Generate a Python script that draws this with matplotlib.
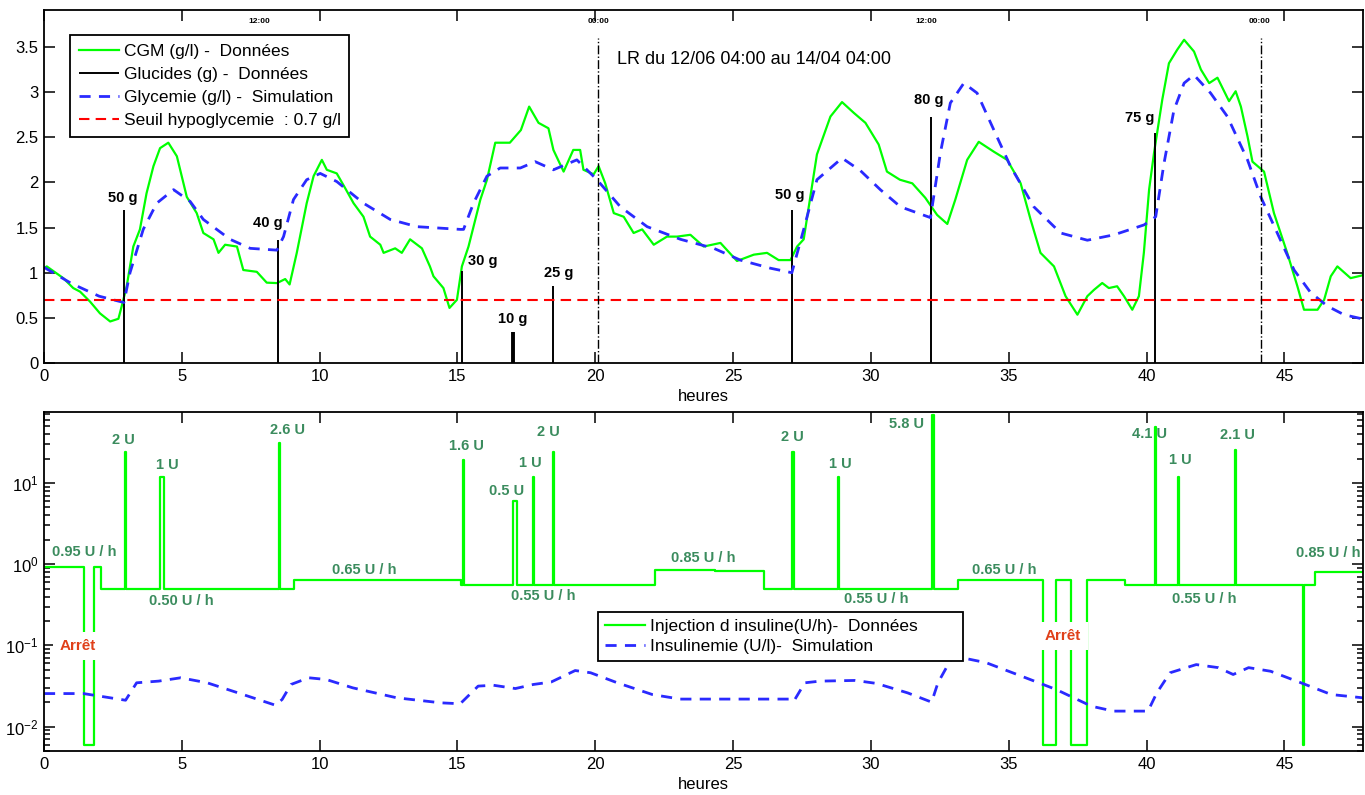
"""
Glycemie / insuline sur 48 h : donnees CGM, glucides, simulation
"""

import numpy as np
import matplotlib
matplotlib.use('Agg')
import matplotlib.pyplot as plt

plt.rcParams['font.family'] = ['Liberation Sans', 'DejaVu Sans']

# ---- CGM (g/l) - donnees
cgm_t = [0.0, 0.1, 0.7, 1.06, 1.31, 1.67, 2.03, 2.4, 2.7, 2.82, 3.0, 3.24, 3.48, 3.72,
         3.97, 4.21, 4.51, 4.82, 5.18, 5.54, 5.78, 6.15, 6.33, 6.57, 7.0, 7.23, 7.72,
         8.08, 8.45, 8.75, 8.91, 9.17, 9.53, 9.78, 10.08, 10.26, 10.62, 10.92, 11.23,
         11.59, 11.83, 12.2, 12.32, 12.74, 12.98, 13.28, 13.71, 14.0, 14.13, 14.49,
         14.71, 14.98, 15.16, 15.4, 15.83, 16.07, 16.37, 16.9, 17.3, 17.6, 17.94, 18.3,
         18.48, 18.85, 19.2, 19.45, 19.57, 19.94, 20.12, 20.36, 20.67, 21.03, 21.39,
         21.7, 22.12, 22.6, 22.97, 23.45, 23.93, 24.54, 25.14, 25.75, 26.23, 26.65,
         27.08, 27.32, 27.56, 27.8, 28.04, 28.53, 28.95, 29.38, 29.8, 30.28, 30.58,
         31.05, 31.5, 31.97, 32.4, 32.77, 33.06, 33.49, 33.91, 34.46, 34.94, 35.43,
         35.79, 36.15, 36.64, 37.06, 37.49, 37.85, 38.09, 38.39, 38.63, 38.93, 39.18,
         39.48, 39.72, 39.9, 40.09, 40.27, 40.57, 40.81, 41.11, 41.36, 41.72, 41.97,
         42.27, 42.57, 42.99, 43.23, 43.42, 43.66, 43.84, 44.26, 44.62, 45.1, 45.47,
         45.71, 46.2, 46.44, 46.68, 46.92, 47.4, 47.95]
cgm_v = [1.05, 1.07, 0.94, 0.83, 0.79, 0.68, 0.55, 0.46, 0.49, 0.63, 0.85, 1.29, 1.48, 1.88,
         2.18, 2.38, 2.44, 2.29, 1.84, 1.66, 1.44, 1.37, 1.22, 1.31, 1.29, 1.03, 1.01,
         0.89, 0.885, 0.93, 0.87, 1.22, 1.77, 2.07, 2.25, 2.14, 2.10, 1.94, 1.77,
         1.62, 1.40, 1.31, 1.22, 1.27, 1.22, 1.37, 1.27, 1.07, 0.96, 0.83,
         0.61, 0.70, 1.07, 1.29, 1.81, 2.03, 2.44, 2.44, 2.58, 2.84, 2.66, 2.60,
         2.36, 2.12, 2.36, 2.36, 2.14, 2.09, 2.18, 1.99, 1.66, 1.62, 1.44,
         1.48, 1.31, 1.40, 1.40, 1.42, 1.29, 1.33, 1.13, 1.20, 1.22, 1.14,
         1.14, 1.29, 1.37, 1.84, 2.31, 2.73, 2.89, 2.77, 2.66, 2.42, 2.12,
         2.03, 1.99, 1.83, 1.64, 1.54, 1.81, 2.25, 2.45, 2.34, 2.25, 1.99,
         1.59, 1.22, 1.07, 0.74, 0.535, 0.74, 0.81, 0.886, 0.83, 0.85, 0.74,
         0.59, 0.74, 1.22, 1.92, 2.33, 2.92, 3.32, 3.47, 3.58, 3.45, 3.25,
         3.10, 3.16, 2.90, 3.01, 2.84, 2.51, 2.23, 2.12, 1.66, 1.22, 0.85,
         0.59, 0.59, 0.70, 0.96, 1.07, 0.94, 0.98]

# ---- Glycemie (g/l) - simulation
gly_t = [0.0, 1.0, 2.0, 2.9, 3.12, 3.6, 4.09, 4.7, 5.3, 5.78, 6.75, 7.48, 8.45, 8.69,
         9.05, 9.53, 10.02, 10.62, 11.59, 12.56, 13.53, 15.1, 15.22, 15.58, 16.07,
         16.55, 17.28, 17.82, 18.48, 19.33, 20.06, 20.91, 21.88, 23.09, 24.3, 25.26,
         26.35, 27.13, 27.56, 28.04, 28.95, 29.62, 30.34, 31.07, 32.16, 32.52, 32.88,
         33.37, 33.85, 34.46, 35.06, 35.91, 36.88, 37.85, 38.82, 39.91, 40.33, 40.63,
         40.99, 41.36, 41.72, 42.32, 42.93, 43.66, 44.14, 44.74, 45.35, 45.95, 46.56,
         47.16, 47.95]
gly_v = [1.06, 0.88, 0.74, 0.67, 1.0, 1.48, 1.77, 1.92, 1.79, 1.59, 1.37, 1.27, 1.25, 1.40,
         1.81, 2.03, 2.10, 2.01, 1.77, 1.59, 1.51, 1.48, 1.48, 1.77, 2.07,
         2.16, 2.16, 2.23, 2.14, 2.25, 2.03, 1.73, 1.51, 1.37, 1.27, 1.14,
         1.05, 1.00, 1.48, 2.03, 2.27, 2.13, 1.92, 1.73, 1.61, 2.33, 2.88,
         3.10, 2.99, 2.58, 2.18, 1.73, 1.44, 1.36, 1.42, 1.53, 1.62, 2.21,
         2.80, 3.10, 3.19, 2.99, 2.73, 2.25, 1.84, 1.44, 1.03, 0.78, 0.63,
         0.535, 0.48]

SEUIL = 0.7

# ---- Glucides (g)
carb_t = [2.9, 8.48, 15.16, 17.01, 18.45, 27.14, 32.16, 40.29]
carb_g = [50, 40, 30, 10, 25, 50, 80, 75]
G_SCALE = 0.034  # hauteur du trait en g/l par gramme

# ---- Insuline : basal (U/h), arrets, bolus (U)
basal_t = [0, 2.05, 9.07, 15.11, 22.18, 24.35, 26.13, 33.15, 39.2, 46.1]
basal_rate = [0.93, 0.49, 0.64, 0.55, 0.86, 0.82, 0.49, 0.64, 0.55, 0.81]
arret_start = [1.44, 36.25, 37.27, 45.66]
arret_end = [1.81, 36.72, 37.82, 45.72]
ARRET_LEVEL = 0.006
bolus_t = [2.94, 4.2, 8.51, 15.2, 17.0, 17.73, 18.45, 27.15, 28.8, 32.23, 40.3, 41.14, 43.2]
bolus_u = [2, 1, 2.6, 1.6, 0.5, 1, 2, 2, 1, 5.8, 4.1, 1, 2.1]
bolus_dur = [0.05, 0.15, 0.05, 0.05, 0.15, 0.05, 0.05, 0.05, 0.05, 0.05, 0.05, 0.05, 0.05]
BOLUS_RATE = 12  # bolus delivre en 5 min -> U/h

basal_labels = ['0.95 U / h', '0.50 U / h', '0.65 U / h', '0.55 U / h', '0.85 U / h',
                '0.55 U / h', '0.65 U / h', '0.55 U / h', '0.85 U / h']
basal_label_t = [1.45, 4.97, 11.6, 18.1, 23.9, 30.2, 34.85, 42.1, 46.6]
basal_label_v = [1.42, 0.352, 0.85, 0.406, 1.18, 0.37, 0.85, 0.377, 1.37]

# ---- Insulinemie (U/l) - simulation
ins_t = [0, 1.43, 2.96, 3.36, 4.16, 4.96, 5.92, 7.04, 8.4, 8.64, 8.96, 9.6, 10.24, 11.2,
         12.8, 14.4, 15.1, 15.75, 16.3, 17.1, 17.75, 18.4, 19.27, 19.83, 20.8, 22.07,
         23.08, 27.05, 27.2, 27.6, 28.16, 29.43, 30.2, 31.33, 32.2, 32.43, 32.9, 33.3,
         34.18, 35.45, 36.72, 38.0, 38.8, 40.05, 40.37, 40.85, 41.8, 42.6, 43.14, 43.7,
         44.5, 45.6, 46.7, 47.9]
ins_v = [0.0255, 0.0255, 0.0211, 0.0346, 0.0363, 0.0399, 0.0346, 0.026, 0.0183, 0.0216,
         0.033, 0.0399, 0.038, 0.030, 0.0226, 0.0196, 0.0191, 0.0315, 0.0323, 0.0294,
         0.033, 0.0354, 0.049, 0.046, 0.0346, 0.0248, 0.0218, 0.0218, 0.0205, 0.0346,
         0.0363, 0.037, 0.034, 0.026, 0.020, 0.0346, 0.067, 0.0705, 0.0612, 0.0419,
         0.0286, 0.0178, 0.0155, 0.0155, 0.026, 0.046, 0.058, 0.0532, 0.0438, 0.0532,
         0.048, 0.0346, 0.0248, 0.0225]

X_MAX = 47.85
LABEL_GREEN = '#3b8c5e'
ARRET_RED = '#e0401a'


def insulin_trace():
    """Courbe en escalier du debit d'insuline a partir des evenements"""
    edges = set(basal_t) | set(arret_start) | set(arret_end) | {X_MAX}
    for t, d in zip(bolus_t, bolus_dur):
        edges |= {t, t + d}
    edges = sorted(edges)
    values = []
    for a, b in zip(edges[:-1], edges[1:]):
        mid = 0.5 * (a + b)
        val = None
        for s, e in zip(arret_start, arret_end):
            if s <= mid < e:
                val = ARRET_LEVEL
        if val is None:
            for t, u, d in zip(bolus_t, bolus_u, bolus_dur):
                if t <= mid < t + d:
                    val = u * BOLUS_RATE
        if val is None:
            idx = np.searchsorted(basal_t, mid, side='right') - 1
            val = basal_rate[idx]
        values.append(val)
    values.append(values[-1])
    return edges, values


def style_axis(ax):
    ax.tick_params(which='both', direction='in', top=True, right=True,
                   labelsize=12, pad=4, width=1.1)
    ax.tick_params(which='major', length=8)
    ax.tick_params(which='minor', length=4)
    for sp in ax.spines.values():
        sp.set_linewidth(1.3)
    ax.set_xlim(0, X_MAX)
    ax.set_xticks(range(0, 50, 5))
    ax.set_xlabel('heures', fontsize=12, labelpad=4)


fig = plt.figure(figsize=(13.65, 7.95), dpi=100)
ax1 = fig.add_axes([44 / 1365, 1 - 363 / 795, 1319 / 1365, 353 / 795])
ax2 = fig.add_axes([44 / 1365, 1 - 751 / 795, 1319 / 1365, 339 / 795])

# ---------------- haut : glycemie
h_cgm, = ax1.plot(cgm_t, cgm_v, color='#00ff00', lw=1.6)
carb_lw = [1.4 if g != 10 else 2.8 for g in carb_g]
h_carb = ax1.vlines(carb_t, 0, np.array(carb_g) * G_SCALE, color='black', lw=carb_lw)
h_gly, = ax1.plot(gly_t, gly_v, color='#2a2aff', lw=2, ls=(0, (4, 3)))
h_seuil = ax1.axhline(SEUIL, color='#ff0000', lw=1.5, ls=(0, (5, 3)))

carb_dx = [-1, -10, 21, 0, 6, -2, -2, -15]
carb_dy = [12, 17, 10, 13, 13, 15, 17, 15]
for t, g, dx, dy in zip(carb_t, carb_g, carb_dx, carb_dy):
    ax1.annotate(f'{g} g', (t, g * G_SCALE), xytext=(dx, dy), textcoords='offset pixels',
                 ha='center', va='center', fontsize=10.5, fontweight='bold')

for t in (20.1, 44.15):
    ax1.plot([t, t], [0, 3.6], color='black', lw=1, ls='-.')
for t, s in [(7.8, '12:00'), (20.1, '00:00'), (32.0, '12:00'), (44.1, '00:00')]:
    ax1.text(t, 3.78, s, ha='center', va='center', fontsize=6, fontweight='bold')

ax1.text(20.8, 3.36, 'LR du 12/06 04:00 au 14/04 04:00', fontsize=13, va='center')

ax1.set_ylim(0, 3.91)
ax1.set_yticks(np.arange(0, 3.6, 0.5))
ax1.set_yticklabels(['0', '0.5', '1', '1.5', '2', '2.5', '3', '3.5'])
style_axis(ax1)

leg1 = ax1.legend([h_cgm, h_carb, h_gly, h_seuil],
                  ['CGM (g/l) -  Données', 'Glucides (g) -  Données',
                   'Glycemie (g/l) -  Simulation', 'Seuil hypoglycemie  : 0.7 g/l'],
                  loc='upper left', bbox_to_anchor=(0.0197, 0.929), borderaxespad=0,
                  fontsize=12.5, fancybox=False, framealpha=1, edgecolor='black',
                  handlelength=2.3, handletextpad=0.3, labelspacing=0.46,
                  borderpad=0.5)
leg1.get_frame().set_linewidth(1.3)

# ---------------- bas : insuline
ins_x, ins_y = insulin_trace()
h_inj, = ax2.plot(ins_x, ins_y, color='#00ff00', lw=1.6, drawstyle='steps-post')
h_ins, = ax2.plot(ins_t, ins_v, color='#2a2aff', lw=2, ls=(0, (4, 3)))

bolus_dx = [-2, 5, 8, 3, -8, -3, -5, -1, 2, -27, -6, 2, 2]
bolus_dy = [12, 12, 13, 14, 10, 14, 20, 15, 13, -9, -7, 17, 15]
for t, u, d, dx, dy in zip(bolus_t, bolus_u, bolus_dur, bolus_dx, bolus_dy):
    ax2.annotate(f'{u:g} U', (t + d / 2, u * BOLUS_RATE), xytext=(dx, dy),
                 textcoords='offset pixels', ha='center', va='center',
                 fontsize=10.5, fontweight='bold', color=LABEL_GREEN)
for s, t, v in zip(basal_labels, basal_label_t, basal_label_v):
    ax2.text(t, v, s, ha='center', va='center', fontsize=10.5, fontweight='bold',
             color=LABEL_GREEN)
for t, v in [(1.24, 0.098), (36.95, 0.13)]:
    ax2.text(t, v, 'Arrêt', ha='center', va='center', fontsize=11, fontweight='bold',
             color=ARRET_RED, zorder=5,
             bbox=dict(boxstyle='square,pad=0.45', fc='white', ec='none'))

ax2.set_yscale('log')
ax2.set_ylim(0.005, 75)
ax2.set_yticks([1e-2, 1e-1, 1e0, 1e1])
style_axis(ax2)

leg2 = ax2.legend([h_inj, h_ins],
                  ['Injection d insuline(U/h)-  Données        ',
                   'Insulinemie (U/l)-  Simulation'],
                  loc='upper left', bbox_to_anchor=(0.42, 0.41), borderaxespad=0,
                  fontsize=12.5, fancybox=False, framealpha=1, edgecolor='black',
                  handlelength=2.3, handletextpad=0.3, labelspacing=0.3,
                  borderpad=0.38)
leg2.get_frame().set_linewidth(1.3)

fig.savefig('out.png', dpi=100)
